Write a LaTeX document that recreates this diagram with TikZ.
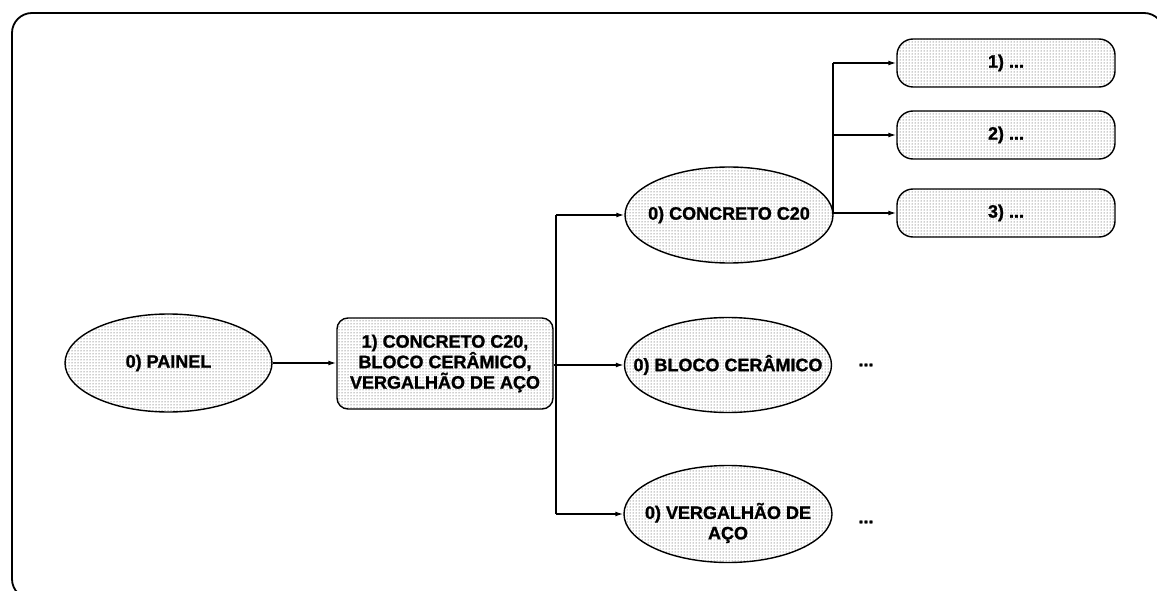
\documentclass[tikz,border=0pt]{standalone}
\usepackage{fontspec}
\setmainfont[BoldFeatures={FakeBold=1.2}]{Liberation Sans}
\usetikzlibrary{shapes.geometric,patterns,arrows.meta}

\tikzset{
  dotfill/.style={preaction={fill=white}, pattern=dots, pattern color=black!80},
  oval/.style={ellipse, draw, line width=1.4pt, dotfill, inner xsep=-40pt, inner ysep=0pt,
    minimum width=#1, minimum height=97pt, align=center},
  oval/.default=208pt,
  listbox/.style={rectangle, rounded corners=11pt, draw, line width=1.4pt, dotfill,
    minimum width=216pt, minimum height=91pt, inner sep=0pt, align=center},
  itembox/.style={rectangle, rounded corners=16pt, draw, line width=1.4pt, dotfill,
    minimum width=218pt, minimum height=48pt, inner sep=0pt},
  link/.style={line width=1.4pt, -{Latex[length=8pt,width=5pt]}},
  bare/.style={line width=1.4pt},
  every node/.style={font=\fontsize{18}{20.5}\selectfont\bfseries}
}

\begin{document}
\begin{tikzpicture}[x=1pt,y=-1pt]
  \useasboundingbox (0,0) rectangle (1157,591);
  \clip (0,0) rectangle (1157,591);

  % outer frame
  \draw[line width=1.8pt, rounded corners=20pt] (12,13) rectangle (1164,599);

  % nodes
  \node[oval=207pt, minimum height=98pt] (painel) at (168.5,363) {0) PAINEL};
  \node[listbox] (mix) at (445,363.5) {1) CONCRETO C20,\\BLOCO CERÂMICO,\\VERGALHÃO DE AÇO};
  \node[oval=208pt, minimum height=96pt] (concreto) at (729,215) {0) CONCRETO C20};
  \node[oval=207pt, minimum height=95pt] (bloco) at (728,365) {0) BLOCO CERÂMICO};
  % the strut pushes the two lines a little below the centre of the oval
  \node[oval=208pt, minimum height=97pt] (verg) at (728,514) {\rule{0pt}{34pt}0) VERGALHÃO DE\\AÇO};

  \node[itembox] (c1) at (1006,63) {1) ...};
  \node[itembox] (c2) at (1006,135) {2) ...};
  \node[itembox] (c3) at (1006,213) {3) ...};

  \node (moreb) at (866,365) {...};
  \node (morev) at (866,522) {...};

  % connectors
  \coordinate (split) at (556,365);
  \draw[link] (painel.east) -- (mix.west |- painel.east);
  \draw[link] (mix.east |- bloco.west) -- (bloco.west);
  \draw[bare] (split |- concreto.west) -- (split |- verg.west);
  \draw[link] (split |- concreto.west) -- (concreto.west);
  \draw[link] (split |- verg.west) -- (verg.west);

  \coordinate (fork) at (833,213);
  \draw[bare] (fork |- c1.west) -- (fork);
  \draw[link] (fork) -- (c3.west);
  \draw[link] (fork |- c1.west) -- (c1.west);
  \draw[link] (fork |- c2.west) -- (c2.west);
\end{tikzpicture}
\end{document}
